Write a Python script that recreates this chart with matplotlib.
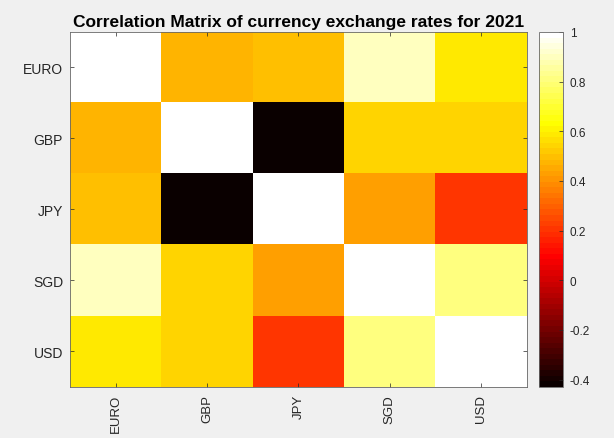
import matplotlib
matplotlib.use('Agg')
import matplotlib.pyplot as plt
import numpy as np
from matplotlib.colors import ListedColormap

plt.rcParams['font.family'] = ['Liberation Sans', 'DejaVu Sans']

# Data (symmetric correlation matrix)
currencies = ['EURO', 'GBP', 'JPY', 'SGD', 'USD']
euro = [1.00, 0.48, 0.50, 0.89, 0.58]
gbp = [0.48, 1.00, -0.43, 0.55, 0.55]
jpy = [0.50, -0.43, 1.00, 0.43, 0.20]
sgd = [0.89, 0.55, 0.43, 1.00, 0.80]
usd = [0.58, 0.55, 0.20, 0.80, 1.00]
cbar_ticks = [-0.4, -0.2, 0, 0.2, 0.4, 0.6, 0.8, 1]
title = 'Correlation Matrix of currency exchange rates for 2021'

corr = np.array([euro, gbp, jpy, sgd, usd])

# MATLAB-style hot(64) colormap
n = 64
n1 = 24
n2 = 48
r = np.concatenate([np.arange(1, n1 + 1) / n1, np.ones(n - n1)])
g = np.concatenate([np.zeros(n1), np.arange(1, n2 - n1 + 1) / (n2 - n1), np.ones(n - n2)])
b = np.concatenate([np.zeros(n2), np.arange(1, n - n2 + 1) / (n - n2)])
hot = ListedColormap(np.column_stack([r, g, b]))

BG = '#f0f0f0'
TXT = '#262626'
EDGE = '#262626'

fig = plt.figure(figsize=(6.14, 4.39), dpi=100, facecolor=BG)
ax = fig.add_axes([0.114, 0.1162, 0.744, 0.8087])
cax = fig.add_axes([0.878, 0.1162, 0.039, 0.8087])

im = ax.imshow(corr, cmap=hot, vmin=corr.min(), vmax=corr.max(),
               aspect='auto', interpolation='nearest')

ax.set_xticks(np.arange(len(currencies)))
ax.set_yticks(np.arange(len(currencies)))
ax.set_xticklabels(currencies, rotation=90, fontsize=9.5, color=TXT)
ax.set_yticklabels(currencies, fontsize=10, color=TXT)
ax.tick_params(direction='in', length=3, width=0.5, color=EDGE,
               top=True, right=True, pad=5)
for s in ax.spines.values():
    s.set_linewidth(0.6)
    s.set_color('#666666')
ax.set_title(title, fontsize=12.5, fontweight='bold', color='black', pad=4)

cb = fig.colorbar(im, cax=cax, ticks=cbar_ticks)
cb.ax.set_yticklabels(['-0.4', '-0.2', '0', '0.2', '0.4', '0.6', '0.8', '1'])
cb.ax.tick_params(direction='in', length=3, width=0.5, labelsize=8.5,
                  colors=TXT, pad=5)
cb.outline.set_linewidth(0.6)
cb.outline.set_edgecolor('#666666')

fig.savefig('out.png', dpi=100, facecolor=BG)
